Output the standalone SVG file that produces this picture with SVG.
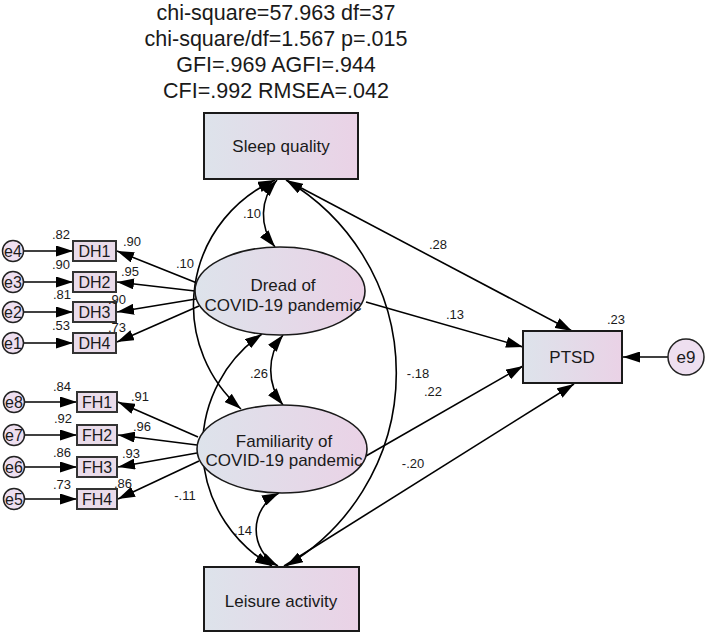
<svg xmlns="http://www.w3.org/2000/svg" width="709" height="635" viewBox="0 0 709 635">
<style>
text{font-family:"Liberation Sans",Arial,sans-serif;fill:#1a1a1a}
.hdr{font-size:21.5px;text-anchor:middle}
.big{font-size:17px;text-anchor:middle}
.ind{font-size:16px;text-anchor:middle}
.lbl{font-size:13px;text-anchor:middle}
.box{fill:url(#g);stroke:#1a1a1a;stroke-width:2}
.ibox{fill:#eadcea;stroke:#333;stroke-width:2}
.err{fill:#eedff0;stroke:#222;stroke-width:1.5}
.ln{fill:none;stroke:#000;stroke-width:1.6;marker-end:url(#ah)}
.dbl{fill:none;stroke:#000;stroke-width:1.6;marker-end:url(#ah);marker-start:url(#ah)}
</style>
<defs>
<linearGradient id="g" x1="0" y1="0" x2="1" y2="0">
<stop offset="0" stop-color="#dde3eb"/>
<stop offset="1" stop-color="#ead2e6"/>
</linearGradient>
<marker id="ah" markerUnits="userSpaceOnUse" markerWidth="18" markerHeight="11" refX="17" refY="5.5" orient="auto-start-reverse" viewBox="0 0 18 11">
<path d="M0,0 L17,5.5 L0,11 z" fill="#000"/>
</marker>
</defs>
<rect width="709" height="635" fill="#fff"/>
<g id="fit">
<text class="hdr" x="276" y="20">chi-square=57.963 df=37</text>
<text class="hdr" x="276" y="46">chi-square/df=1.567 p=.015</text>
<text class="hdr" x="276" y="72">GFI=.969 AGFI=.944</text>
<text class="hdr" x="276" y="98">CFI=.992 RMSEA=.042</text>
</g>
<g id="connectors">
<path class="dbl" d="M277,180 A51,51 0 0 0 275,247"/>
<path class="dbl" d="M275,180 A137,137 0 0 0 241,409"/>
<path class="dbl" d="M262,334 A137,137 0 0 0 272,566"/>
<path class="dbl" d="M286,180 A224,224 0 0 1 286,566"/>
<path class="dbl" d="M283,335 A56,56 0 0 0 283,405"/>
<path class="dbl" d="M279,493 A41,41 0 0 0 278,566"/>
<path class="ln" d="M288,181 L572,331"/>
<path class="ln" d="M366,302 L523,347"/>
<path class="ln" d="M366,456 L523,366"/>
<path class="ln" d="M284,566 L574,384"/>
<path class="ln" d="M668,357 L623,357"/>
<path class="ln" d="M197,283 L117,251"/>
<path class="ln" d="M195,291 L117,282"/>
<path class="ln" d="M196,299 L117,312"/>
<path class="ln" d="M199,306 L117,342"/>
<path class="ln" d="M198,437 L118,402"/>
<path class="ln" d="M197,445 L118,435"/>
<path class="ln" d="M197,453 L118,467"/>
<path class="ln" d="M199,461 L118,499"/>
<path class="ln" d="M24,251 L73,251"/>
<path class="ln" d="M24,282 L73,282"/>
<path class="ln" d="M24,312 L73,312"/>
<path class="ln" d="M24,343 L73,343"/>
<path class="ln" d="M25,402 L77,402"/>
<path class="ln" d="M25,435 L77,435"/>
<path class="ln" d="M25,467 L77,467"/>
<path class="ln" d="M25,499 L77,499"/>
</g>
<g id="sleep"><rect class="box" x="204" y="113" width="154" height="66"/><text class="big" x="281" y="152">Sleep quality</text></g>
<g id="leisure"><rect class="box" x="204" y="567" width="155" height="64"/><text class="big" x="281" y="607">Leisure activity</text></g>
<g id="ptsd"><rect class="box" x="523" y="331" width="99" height="52"/><text class="big" x="572" y="363">PTSD</text></g>
<g id="e9"><circle class="err" cx="686" cy="357" r="18"/><text class="big" x="686" y="363">e9</text></g>
<g id="dread"><ellipse cx="280" cy="291" rx="85" ry="44" fill="url(#g)" stroke="#1a1a1a" stroke-width="1.6"/><text class="big" x="283" y="291">Dread of</text><text class="big" x="283" y="311">COVID-19 pandemic</text></g>
<g id="familiarity"><ellipse cx="282" cy="449" rx="85" ry="44" fill="url(#g)" stroke="#1a1a1a" stroke-width="1.6"/><text class="big" x="284" y="447">Familiarity of</text><text class="big" x="284" y="466">COVID-19 pandemic</text></g>
<g id="DH1"><rect class="ibox" x="73" y="241" width="43" height="20"/><text class="ind" x="94.5" y="257">DH1</text></g>
<g id="DH2"><rect class="ibox" x="73" y="272" width="43" height="20"/><text class="ind" x="94.5" y="288">DH2</text></g>
<g id="DH3"><rect class="ibox" x="73" y="302" width="43" height="20"/><text class="ind" x="94.5" y="318">DH3</text></g>
<g id="DH4"><rect class="ibox" x="73" y="333" width="43" height="20"/><text class="ind" x="94.5" y="349">DH4</text></g>
<g id="FH1"><rect class="ibox" x="77" y="392" width="40" height="20"/><text class="ind" x="97" y="408">FH1</text></g>
<g id="FH2"><rect class="ibox" x="77" y="425" width="40" height="20"/><text class="ind" x="97" y="441">FH2</text></g>
<g id="FH3"><rect class="ibox" x="77" y="457" width="40" height="20"/><text class="ind" x="97" y="473">FH3</text></g>
<g id="FH4"><rect class="ibox" x="77" y="489" width="40" height="20"/><text class="ind" x="97" y="505">FH4</text></g>
<g id="e4"><circle class="err" cx="13" cy="251" r="10.5"/><text class="ind" x="13" y="257">e4</text></g>
<g id="e3"><circle class="err" cx="13" cy="282" r="10.5"/><text class="ind" x="13" y="288">e3</text></g>
<g id="e2"><circle class="err" cx="13" cy="312" r="10.5"/><text class="ind" x="13" y="318">e2</text></g>
<g id="e1"><circle class="err" cx="13" cy="343" r="10.5"/><text class="ind" x="13" y="349">e1</text></g>
<g id="e8"><circle class="err" cx="14" cy="402" r="10.5"/><text class="ind" x="14" y="408">e8</text></g>
<g id="e7"><circle class="err" cx="14" cy="435" r="10.5"/><text class="ind" x="14" y="441">e7</text></g>
<g id="e6"><circle class="err" cx="14" cy="467" r="10.5"/><text class="ind" x="14" y="473">e6</text></g>
<g id="e5"><circle class="err" cx="14" cy="499" r="10.5"/><text class="ind" x="14" y="505">e5</text></g>
<g id="labels">
<text class="lbl" x="61" y="239">.82</text>
<text class="lbl" x="61" y="269">.90</text>
<text class="lbl" x="62" y="299">.81</text>
<text class="lbl" x="61" y="330">.53</text>
<text class="lbl" x="132" y="246">.90</text>
<text class="lbl" x="130" y="276">.95</text>
<text class="lbl" x="117" y="304">.90</text>
<text class="lbl" x="117" y="332">.73</text>
<text class="lbl" x="62" y="391">.84</text>
<text class="lbl" x="63" y="423">.92</text>
<text class="lbl" x="62" y="457">.86</text>
<text class="lbl" x="62" y="489">.73</text>
<text class="lbl" x="140" y="401">.91</text>
<text class="lbl" x="142" y="431">.96</text>
<text class="lbl" x="131" y="458">.93</text>
<text class="lbl" x="123" y="488">.86</text>
<text class="lbl" x="252" y="218">.10</text>
<text class="lbl" x="185" y="268">.10</text>
<text class="lbl" x="259" y="378">.26</text>
<text class="lbl" x="185" y="500">-.11</text>
<text class="lbl" x="243" y="535">.14</text>
<text class="lbl" x="418" y="378">-.18</text>
<text class="lbl" x="438" y="249">.28</text>
<text class="lbl" x="455" y="319">.13</text>
<text class="lbl" x="433" y="396">.22</text>
<text class="lbl" x="413" y="468">-.20</text>
<text class="lbl" x="616" y="324">.23</text>
</g>
</svg>
